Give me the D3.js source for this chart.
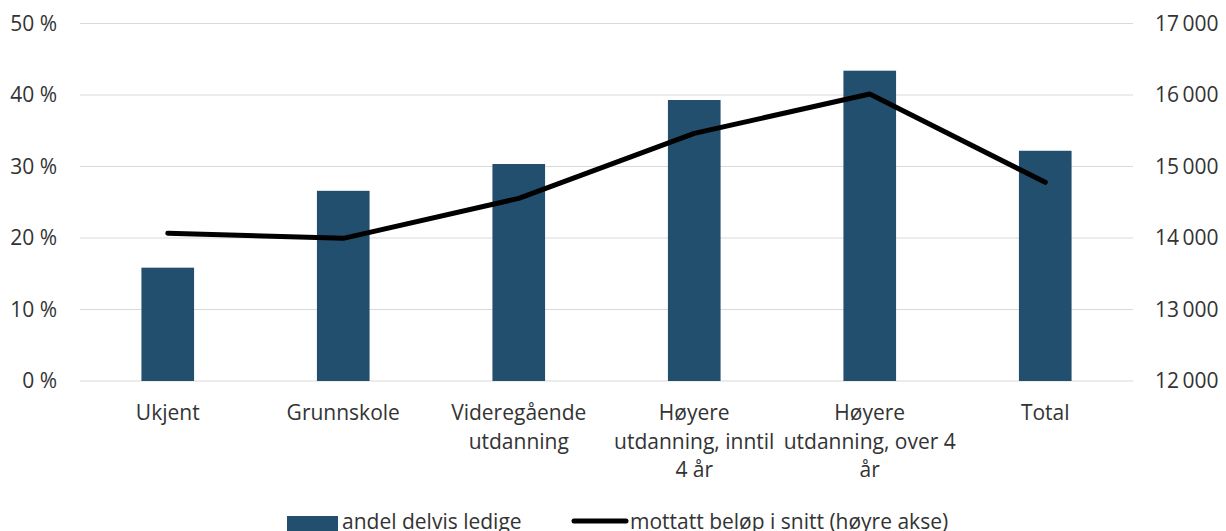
<!DOCTYPE html>
<html><head><meta charset="utf-8">
<script src="https://cdn.jsdelivr.net/npm/d3@7"></script>
<style>
html,body{margin:0;padding:0;background:#fff;}
svg{display:block;font-family:"Open Sans",sans-serif;}
</style></head>
<body><svg id="c" width="1226" height="531"></svg>
<script>
const categories = [["Ukjent"],["Grunnskole"],["Videregående","utdanning"],["Høyere","utdanning, inntil","4 år"],["Høyere","utdanning, over 4","år"],["Total"]];
const shareValues = [15.85, 26.6, 30.35, 39.3, 43.4, 32.2];
const amountValues = [14066, 13995, 14555, 15464, 16014, 14779];
const leftTicks = [0,10,20,30,40,50];
const rightTicks = [12000,13000,14000,15000,16000,17000];
const seriesNames = ["andel delvis ledige","mottatt beløp i snitt (høyre akse)"];

const svg = d3.select("#c");
const x0 = 80, x1 = 1133, yTop = 23.5, yBot = 381;
const x = d3.scaleBand().domain(d3.range(categories.length)).range([x0,x1]).paddingInner(0.7).paddingOuter(0.35);
const yL = d3.scaleLinear().domain([0,50]).range([yBot,yTop]);
const yR = d3.scaleLinear().domain([12000,17000]).range([yBot,yTop]);
const textCol = "#333333";
const fs = 21;

// gridlines
svg.append("g").selectAll("line").data(leftTicks).join("line")
  .attr("x1",x0).attr("x2",x1).attr("y1",d=>yL(d)).attr("y2",d=>yL(d))
  .attr("stroke","#d9d9d9").attr("stroke-width",1.2);

// left axis
const gl = svg.append("g").attr("transform",`translate(57,0)`)
  .call(d3.axisLeft(yL).tickValues(leftTicks).tickSize(0).tickPadding(0).tickFormat(d=>d+" %"));
gl.select(".domain").remove();
gl.selectAll("text").attr("font-size",fs).attr("fill",textCol).attr("font-family","Open Sans");

// right axis
const gr = svg.append("g").attr("transform",`translate(1155,0)`)
  .call(d3.axisRight(yR).tickValues(rightTicks).tickSize(0).tickPadding(0).tickFormat(d=>d3.format(",")(d).replace(",","\u2009")));
gr.select(".domain").remove();
gr.selectAll("text").attr("font-size",fs).attr("fill",textCol).attr("font-family","Open Sans");

// bars
svg.append("g").selectAll("rect").data(shareValues).join("rect")
  .attr("x",(d,i)=>x(i)).attr("width",x.bandwidth())
  .attr("y",d=>yL(d)).attr("height",d=>yBot-yL(d))
  .attr("fill","#234f6e");

// line
const line = d3.line().x((d,i)=>x(i)+x.bandwidth()/2).y(d=>yR(d));
svg.append("path").datum(amountValues).attr("d",line)
  .attr("fill","none").attr("stroke","#000").attr("stroke-width",5)
  .attr("stroke-linecap","round").attr("stroke-linejoin","round");

// category labels
const cl = svg.append("g").selectAll("text").data(categories).join("text")
  .attr("text-anchor","middle").attr("font-size",fs).attr("fill",textCol)
  .attr("x",(d,i)=>x(i)+x.bandwidth()/2).attr("y",420);
cl.each(function(d,i){
  const t = d3.select(this);
  d.forEach((s,j)=>t.append("tspan").attr("x",x(i)+x.bandwidth()/2).attr("y",420+j*28.7).text(s));
});

// legend
const lg = svg.append("g");
lg.append("rect").attr("x",287).attr("y",516).attr("width",51).attr("height",16).attr("fill","#234f6e");
lg.append("text").attr("x",342).attr("y",529).attr("font-size",fs).attr("fill",textCol).text(seriesNames[0]);
lg.append("line").attr("x1",574).attr("x2",626).attr("y1",521).attr("y2",521)
  .attr("stroke","#000").attr("stroke-width",5).attr("stroke-linecap","round");
lg.append("text").attr("x",630).attr("y",529).attr("font-size",fs).attr("fill",textCol).text(seriesNames[1]);
</script></body></html>
